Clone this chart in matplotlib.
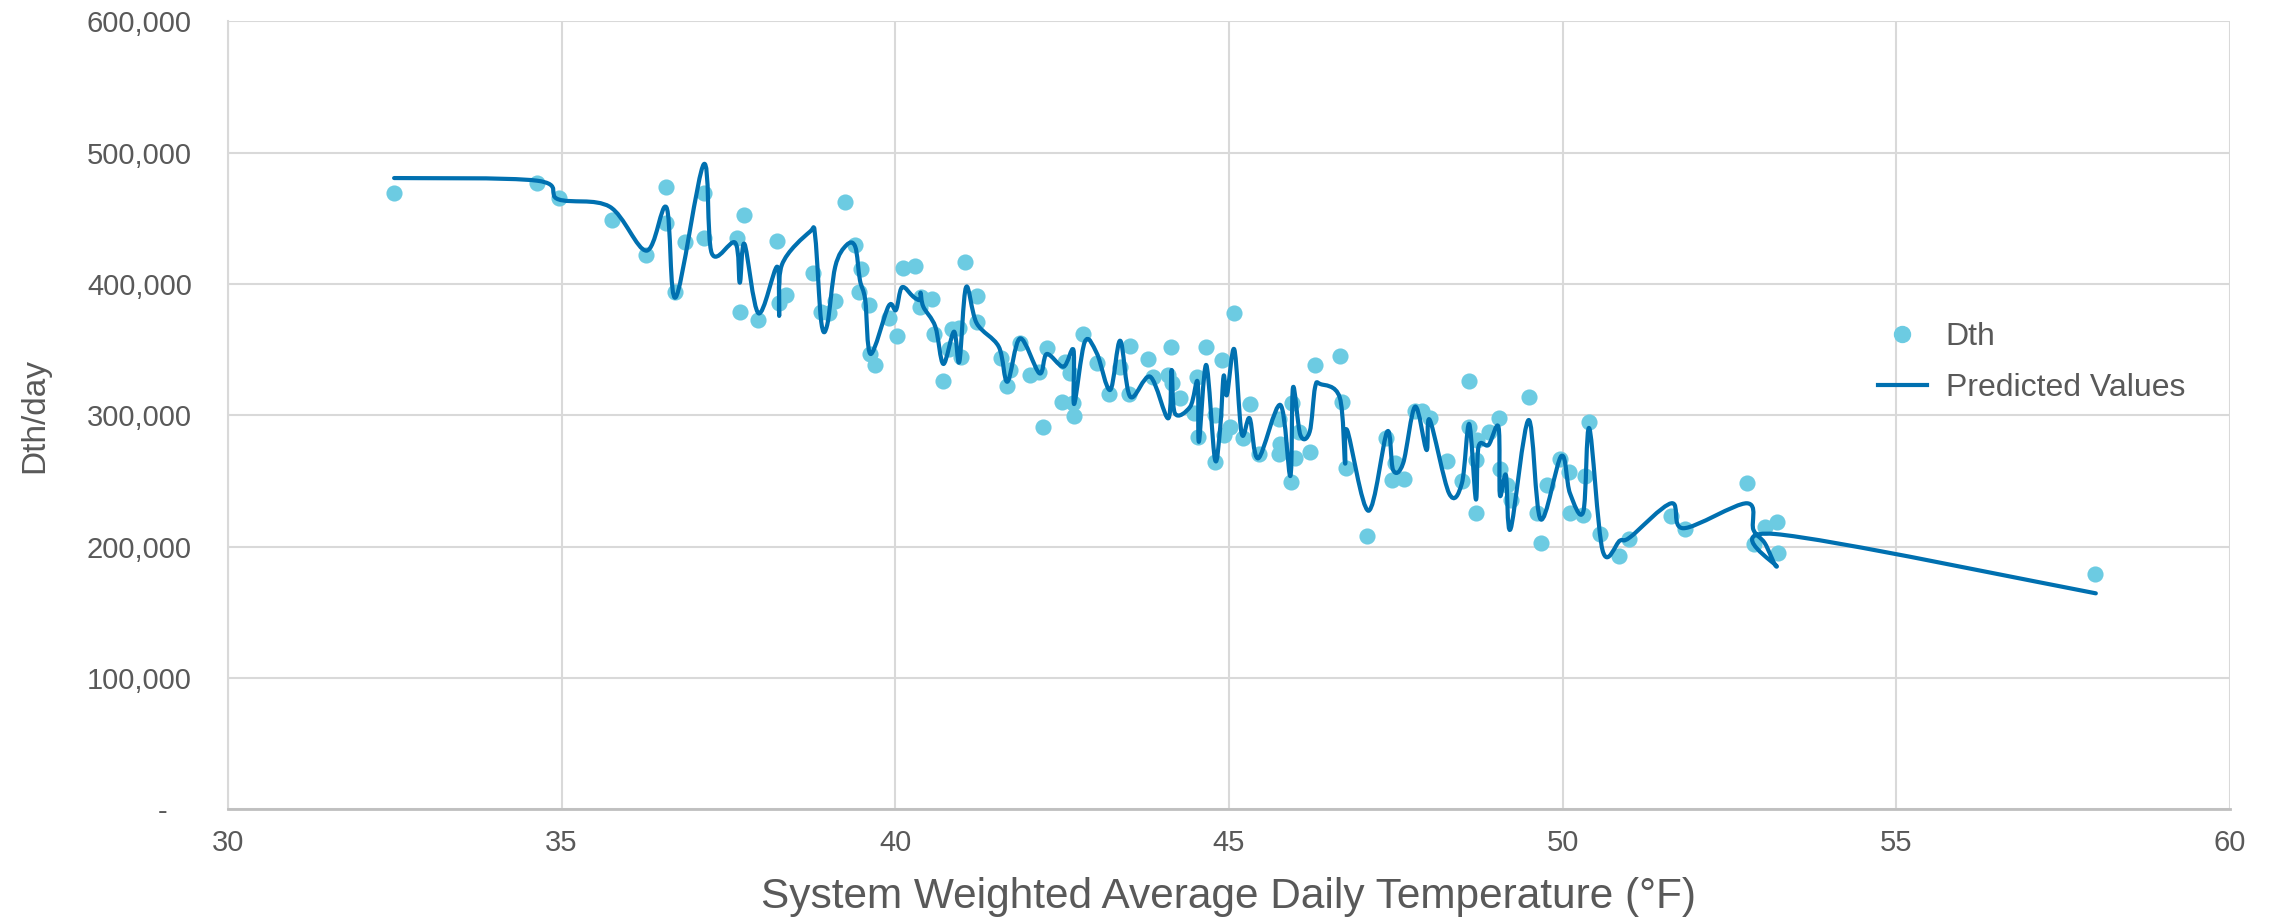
import matplotlib
matplotlib.use("Agg")
import matplotlib.pyplot as plt
from matplotlib.path import Path
from matplotlib.patches import PathPatch
from matplotlib.lines import Line2D
from matplotlib.ticker import FuncFormatter, MultipleLocator
import numpy as np

# ---- Data: observed Dth/day (x = temperature °F, y = thousands Dth) ----
obs_x = [32.49, 34.63, 34.96, 35.76, 36.27, 36.57, 36.57, 36.70, 36.85, 37.13, 37.14, 37.74, 37.63, 37.67,
         37.95, 38.23, 38.26, 38.36, 38.77, 38.89, 39.00, 39.10, 39.25, 39.40, 39.48, 39.46, 39.60, 39.62,
         39.70, 39.90, 40.02, 40.11, 40.30, 40.37, 40.55, 40.38, 40.58, 40.71, 40.85, 40.96, 40.80, 40.98,
         41.05, 41.22, 41.22, 41.58, 41.72, 41.68, 41.87, 42.02, 42.16, 42.21, 42.27, 42.50, 42.55, 42.67,
         42.68, 42.62, 42.82, 43.02,
         43.20, 43.37, 43.51, 43.50, 43.79, 43.86, 44.13, 44.09, 44.14, 44.27, 44.52, 44.47, 44.54, 44.66,
         44.79, 44.92, 45.01, 44.79, 44.90, 45.08, 45.31, 45.21, 45.45, 45.75, 45.76, 45.75, 45.95, 45.99,
         45.93, 46.05, 46.21, 46.29, 46.66, 46.70, 46.75, 47.07, 47.36, 47.49, 47.45, 47.62, 47.79, 47.90,
         48.01, 48.26,
         48.49, 48.60, 48.59, 48.70, 48.71, 48.70, 48.89, 49.05, 49.06, 49.17, 49.22, 49.49, 49.61, 49.67,
         49.77, 49.96, 50.10, 50.11, 50.31, 50.33, 50.40, 50.56, 50.84, 51.00, 51.62, 51.84, 52.77, 52.87,
         53.03, 53.21, 53.22, 57.98]
obs_y = [469.5, 476.7, 465.7, 448.7, 421.9, 473.9, 446.7, 393.7, 431.8, 469.1, 435.3, 452.6, 435.3, 378.7,
         372.6, 432.7, 385.8, 391.6, 408.6, 378.9, 377.7, 387.3, 462.7, 429.7, 411.2, 394.1, 384.0, 346.7,
         338.3, 373.9, 360.4, 412.0, 413.9, 382.7, 388.6, 390.3, 361.7, 326.1, 365.5, 366.3, 350.5, 344.6,
         416.8, 391.1, 371.3, 343.9, 334.5, 322.3, 354.8, 330.7, 333.2, 291.3, 351.5, 310.1, 340.4, 309.1,
         299.5, 332.0, 361.9, 340.1,
         316.0, 337.0, 352.8, 316.2, 342.7, 329.4, 352.2, 330.7, 324.4, 312.9, 329.4, 301.5, 283.7, 352.2,
         300.2, 285.0, 291.3, 264.7, 342.1, 377.7, 308.6, 282.5, 270.5, 296.9, 278.1, 270.5, 309.1, 267.3,
         249.4, 287.5, 272.3, 338.3, 345.2, 310.4, 259.6, 208.1, 282.5, 263.5, 250.7, 251.3, 303.3, 303.5,
         297.8, 265.4,
         249.9, 326.4, 291.3, 225.8, 281.2, 266.0, 287.5, 297.7, 258.9, 246.9, 235.5, 314.2, 225.8, 202.9,
         246.9, 266.5, 257.0, 225.8, 224.0, 253.8, 295.1, 209.6, 192.8, 205.6, 223.5, 213.3, 248.2, 201.8,
         215.2, 218.6, 194.9, 178.9]

# ---- Data: predicted values (smoothed line knots, thousands Dth) ----
pred_x = [32.49, 34.63, 34.95, 35.72, 36.27, 36.57, 36.71, 37.13, 37.25, 37.60, 37.67, 37.74, 37.95, 38.23,
          38.26, 38.30, 38.72, 38.80, 38.89, 38.98, 39.10, 39.27, 39.40, 39.47, 39.55, 39.63, 39.90, 40.01,
          40.10, 40.27, 40.37, 40.38, 40.42, 40.60, 40.72, 40.88, 40.96, 41.06, 41.22, 41.55, 41.68, 41.87,
          42.16, 42.27, 42.52, 42.67, 42.68, 42.84, 43.02, 43.22, 43.37, 43.52, 43.82, 44.09, 44.14, 44.19,
          44.42, 44.53, 44.55, 44.66, 44.79, 44.87, 44.92, 44.97, 45.08, 45.19, 45.31, 45.44, 45.77, 45.92,
          45.96, 46.07, 46.21, 46.29, 46.37, 46.66, 46.74, 46.77, 47.09, 47.37, 47.46, 47.61, 47.79, 47.96,
          48.01, 48.30, 48.49, 48.60, 48.70, 48.74, 48.89, 49.04, 49.06, 49.15, 49.22, 49.49, 49.67, 49.98,
          50.11, 50.31, 50.40, 50.60, 50.86, 51.01, 51.63, 51.81, 52.76, 52.86, 53.03, 53.21, 53.18, 57.99]
pred_y = [480.7, 478.7, 464.5, 458.9, 425.4, 458.4, 389.9, 491.2, 423.4, 431.5, 401.0, 430.5, 377.7, 413.2,
          375.7, 414.5, 439.8, 436.0, 371.3, 368.8, 413.2, 429.7, 428.4, 403.0, 387.8, 346.7, 383.2, 380.2,
          397.5, 390.3, 387.8, 393.4, 382.7, 367.5, 339.1, 363.7, 340.8, 397.5, 370.1, 352.3, 325.6, 358.6,
          332.0, 346.7, 337.0, 349.7, 308.6, 356.0, 347.2, 319.3, 356.8, 314.2, 329.4, 297.7, 334.5, 301.5,
          306.6, 325.6, 279.9, 338.3, 266.5, 291.3, 329.9, 315.5, 350.2, 286.3, 297.7, 267.3, 307.9, 253.8,
          321.2, 285.0, 287.5, 321.2, 323.8, 313.6, 263.5, 288.8, 227.3, 287.5, 258.3, 263.5, 306.6, 273.6,
          296.4, 240.4, 248.2, 293.4, 236.0, 276.1, 277.4, 290.9, 239.3, 254.5, 213.4, 296.4, 220.8, 269.0,
          240.6, 226.6, 290.1, 196.9, 204.6, 207.1, 233.0, 214.0, 233.0, 212.7, 202.6, 184.8, 209.6, 164.4]

x_ticks = [30, 35, 40, 45, 50, 55, 60]
series_names = ["Dth", "Predicted Values"]

# ---- Styling ----
DOT = "#6ccbe2"
LINE = "#0070b0"
TXT = "#595959"
GRID = "#d9d9d9"
plt.rcParams["font.family"] = ["Liberation Sans", "DejaVu Sans"]

fig = plt.figure(figsize=(22.75, 9.23), dpi=100)
ax = fig.add_axes([0.1002, 0.1233, 0.8800, 0.8535])

ax.scatter(np.array(obs_x), np.array(obs_y) * 1000, s=135, color=DOT, zorder=3, linewidths=0)

# Smoothed line (Excel-style Catmull-Rom -> cubic Bezier)
px = np.array(pred_x)
py = np.array(pred_y) * 1000
P = np.column_stack([px, py])
n = len(P)
verts = [P[0]]
codes = [Path.MOVETO]
for i in range(n - 1):
    p0 = P[i - 1] if i > 0 else P[i]
    p1 = P[i]
    p2 = P[i + 1]
    p3 = P[i + 2] if i + 2 < n else P[i + 1]
    c1 = p1 + (p2 - p0) / 6.0
    c2 = p2 - (p3 - p1) / 6.0
    verts += [c1, c2, p2]
    codes += [Path.CURVE4] * 3
path = Path(np.array(verts), codes)
ax.add_patch(PathPatch(path, facecolor="none", edgecolor=LINE, lw=3.0, zorder=4,
                       capstyle="round", joinstyle="round"))

ax.set_xlim(30, 60)
ax.set_ylim(0, 600000)
ax.set_xticks(x_ticks)
ax.yaxis.set_major_locator(MultipleLocator(100000))
ax.yaxis.set_major_formatter(FuncFormatter(lambda v, p: "-   " if v == 0 else f"{int(v):,}"))
ax.grid(True, color=GRID, lw=1.5)
ax.set_axisbelow(True)
for s in ["top", "right"]:
    ax.spines[s].set_visible(False)
ax.spines["left"].set_color(GRID)
ax.spines["left"].set_linewidth(1.5)
ax.spines["bottom"].set_color("#bfbfbf")
ax.spines["bottom"].set_linewidth(2)
ax.tick_params(length=0, labelsize=21, labelcolor=TXT)
ax.tick_params(axis="x", pad=14)
ax.tick_params(axis="y", pad=26)

ax.set_xlabel("System Weighted Average Daily Temperature (°F)", fontsize=30.5, color=TXT, labelpad=15)
ax.set_ylabel("Dth/day", fontsize=24, color=TXT, labelpad=26)

handles = [Line2D([], [], ls="none", marker="o", ms=11.5, color=DOT),
           Line2D([], [], color=LINE, lw=3)]
ax.legend(handles, series_names, loc="center left", bbox_to_anchor=(0.8129, 0.607),
          bbox_transform=fig.transFigure, frameon=False, fontsize=23, labelcolor=TXT,
          handlelength=1.52, handletextpad=0.59, labelspacing=0.65)

fig.savefig("out.png", dpi=100, facecolor="white")
